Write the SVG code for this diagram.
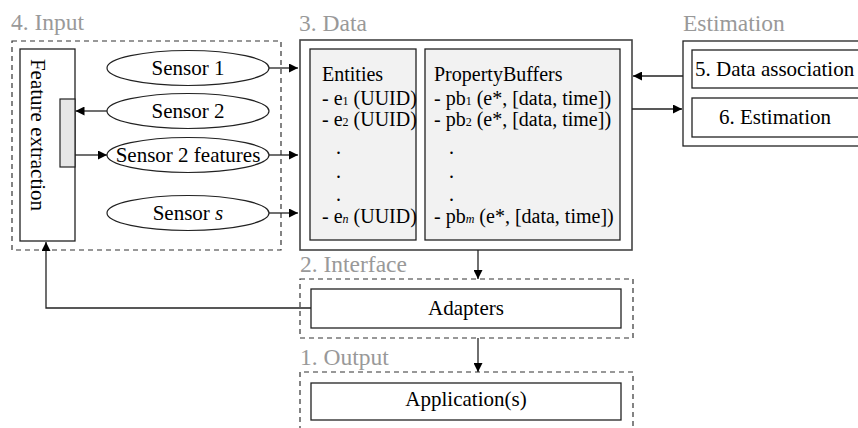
<svg xmlns="http://www.w3.org/2000/svg" width="858" height="428" viewBox="0 0 858 428" font-family="'Liberation Serif', 'Times New Roman', Times, 'DejaVu Serif', serif">
<defs>
<marker id="ah" viewBox="0 0 10 10" refX="10" refY="5" markerWidth="9" markerHeight="9" markerUnits="userSpaceOnUse" orient="auto"><path d="M0,0 L10,5 L0,10 z" fill="#000"/></marker>
<style>
text{font-family:'Liberation Serif','Times New Roman',Times,'DejaVu Serif',serif;fill:#000}
.lbl{font-size:23.5px;fill:#999}
.t21{font-size:21px}
.t20{font-size:20px}
.sub{font-size:12px}
.dash{fill:none;stroke:#333;stroke-width:1.2;stroke-dasharray:5 4}
.box{fill:#fff;stroke:#222;stroke-width:1.3}
.gbox{fill:#f2f2f2;stroke:#222;stroke-width:1.3}
.ell{fill:#fff;stroke:#222;stroke-width:1.2}
.con{fill:none;stroke:#222;stroke-width:1.3}
</style>
</defs>
<rect width="858" height="428" fill="#fff"/>

<g id="input">
<text class="lbl" x="11" y="30">4. Input</text>
<rect class="dash" x="12" y="41" width="269" height="209"/>
</g>
<g id="feature-extraction">
<rect class="box" x="20" y="49" width="55" height="192"/>
<text class="t21" transform="translate(31,135) rotate(90)" text-anchor="middle">Feature extraction</text>
<rect x="60" y="99" width="15" height="68" fill="#e6e6e6" stroke="#222" stroke-width="1.2"/>
</g>
<g id="sensor1"><ellipse class="ell" cx="188" cy="68" rx="81" ry="17.5"/><text class="t21" x="188" y="75" text-anchor="middle">Sensor 1</text></g>
<g id="sensor2"><ellipse class="ell" cx="188" cy="111" rx="81" ry="17.5"/><text class="t21" x="188" y="118" text-anchor="middle">Sensor 2</text></g>
<g id="sensor2f"><ellipse class="ell" cx="188" cy="155" rx="81" ry="17.5"/><text class="t21" x="188" y="162" text-anchor="middle">Sensor 2 features</text></g>
<g id="sensors"><ellipse class="ell" cx="188" cy="213" rx="81" ry="17.5"/><text class="t21" x="188" y="220" text-anchor="middle">Sensor <tspan font-style="italic">s</tspan></text></g>

<g id="data">
<text class="lbl" x="299" y="31">3. Data</text>
<rect x="300" y="40" width="332" height="210" fill="#fff" stroke="#444" stroke-width="1.6"/>
</g>
<g id="entities">
<rect class="gbox" x="310" y="49" width="106" height="191"/>
<text class="t20" x="322" y="81">Entities</text>
<text class="t20" x="322" y="105">- e<tspan class="sub">1</tspan> (UUID)</text>
<text class="t20" x="322" y="126">- e<tspan class="sub">2</tspan> (UUID)</text>
<text class="t20" x="336" y="154">.</text>
<text class="t20" x="336" y="178">.</text>
<text class="t20" x="336" y="201">.</text>
<text class="t20" x="322" y="223">- e<tspan class="sub" font-style="italic">n</tspan> (UUID)</text>
</g>
<g id="propertybuffers">
<rect class="gbox" x="425" y="49" width="195" height="191"/>
<text class="t20" x="434" y="81">PropertyBuffers</text>
<text class="t20" x="434" y="105">- pb<tspan class="sub">1</tspan> (e*, [data, time])</text>
<text class="t20" x="434" y="126">- pb<tspan class="sub">2</tspan> (e*, [data, time])</text>
<text class="t20" x="449" y="154">.</text>
<text class="t20" x="449" y="178">.</text>
<text class="t20" x="449" y="201">.</text>
<text class="t20" x="434" y="223">- pb<tspan class="sub" font-style="italic">m</tspan> (e*, [data, time])</text>
</g>

<g id="estimation">
<text class="lbl" x="683" y="31">Estimation</text>
<rect class="box" x="683" y="41" width="190" height="105"/>
</g>
<g id="data-association">
<rect class="box" x="692" y="50" width="180" height="38"/>
<text class="t21" x="695" y="76">5. Data association</text>
</g>
<g id="estimation6">
<rect class="box" x="692" y="98" width="180" height="39"/>
<text class="t21" x="719" y="124">6. Estimation</text>
</g>

<g id="interface">
<text class="lbl" x="300" y="272">2. Interface</text>
<rect class="dash" x="300" y="279" width="333" height="59"/>
</g>
<g id="adapters">
<rect class="box" x="311" y="289" width="310" height="39"/>
<text class="t21" x="466" y="315" text-anchor="middle">Adapters</text>
</g>

<g id="output">
<text class="lbl" x="300" y="365">1. Output</text>
<path class="dash" d="M300,440 V372 H633 V440"/>
</g>
<g id="application">
<rect class="box" x="311" y="383" width="310" height="37"/>
<text class="t21" x="466" y="406" text-anchor="middle">Application(s)</text>
</g>

<g id="connectors">
<line class="con" x1="269" y1="68" x2="298" y2="68" marker-end="url(#ah)"/>
<line class="con" x1="107" y1="111" x2="75.5" y2="111" marker-end="url(#ah)"/>
<line class="con" x1="75" y1="155" x2="107" y2="155" marker-end="url(#ah)"/>
<line class="con" x1="269" y1="155" x2="298" y2="155" marker-end="url(#ah)"/>
<line class="con" x1="269" y1="213" x2="298" y2="213" marker-end="url(#ah)"/>
<line class="con" x1="683" y1="76" x2="633" y2="76" marker-end="url(#ah)"/>
<line class="con" x1="632" y1="109" x2="682" y2="109" marker-end="url(#ah)"/>
<line class="con" x1="478" y1="250" x2="478" y2="279" marker-end="url(#ah)"/>
<line class="con" x1="478" y1="338" x2="478" y2="372" marker-end="url(#ah)"/>
<polyline class="con" points="311,308 46,308 46,242" marker-end="url(#ah)"/>
</g>
</svg>
